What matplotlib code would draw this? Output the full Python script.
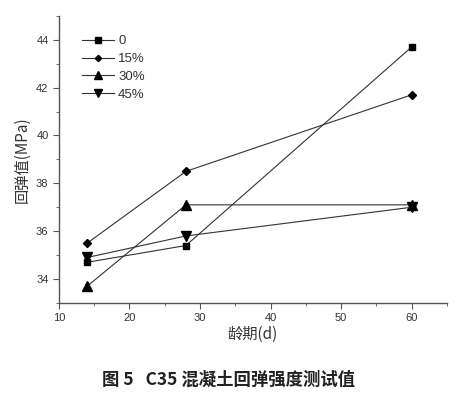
import matplotlib
matplotlib.use("Agg")
import matplotlib.pyplot as plt
from matplotlib.ticker import MultipleLocator

plt.rcParams['font.family'] = ['Liberation Sans', 'Noto Sans CJK SC', 'DejaVu Sans']

days = [14, 28, 60]
series_labels = ["0", "15%", "30%", "45%"]
s0 = [34.7, 35.4, 43.7]
s15 = [35.5, 38.5, 41.7]
s30 = [33.7, 37.1, 37.1]
s45 = [34.9, 35.8, 37.0]
x_label = "龄期(d)"
y_label = "回弹值(MPa)"
title = "图 5   C35 混凝土回弹强度测试值"

fig = plt.figure(figsize=(4.57, 3.96), dpi=100)
ax = fig.add_axes([0.129, 0.235, 0.849, 0.725])

markers = ['s', 'D', '^', 'v']
sizes = [5, 4, 6.5, 6.5]
for vals, lab, m, ms in zip([s0, s15, s30, s45], series_labels, markers, sizes):
    ax.plot(days, vals, color='#333333', lw=0.8, marker=m, markersize=ms,
            markerfacecolor='black', markeredgecolor='black', label=lab)

ax.set_xlim(10, 65)
ax.set_ylim(33, 45)
ax.xaxis.set_major_locator(MultipleLocator(10))
ax.xaxis.set_minor_locator(MultipleLocator(5))
ax.yaxis.set_major_locator(MultipleLocator(2))
ax.yaxis.set_minor_locator(MultipleLocator(1))
for s in ['top', 'right']:
    ax.spines[s].set_visible(False)
for s in ['left', 'bottom']:
    ax.spines[s].set_color('#555555')
    ax.spines[s].set_linewidth(1.0)
ax.tick_params(which='both', direction='out', colors='#555555', labelsize=8, labelcolor='#333333')
ax.tick_params(which='major', length=4)
ax.tick_params(which='minor', length=2.5)

ax.set_xlabel(x_label, fontsize=11, color='#333333', labelpad=2,
              family=['Noto Sans CJK SC', 'DejaVu Sans'])
ax.set_ylabel(y_label, fontsize=11, color='#333333', labelpad=4,
              family=['Noto Sans CJK SC', 'DejaVu Sans'])

leg = ax.legend(loc='upper left', bbox_to_anchor=(0.04, 0.96), frameon=False,
                fontsize=9.5, handlelength=2.4, labelspacing=0.42, handletextpad=0.3,
                borderaxespad=0.2, markerscale=0.8)
for t in leg.get_texts():
    t.set_color('#333333')

fig.text(0.5, 0.04, title, ha='center', va='center', fontsize=12.5,
         color='#222222', fontweight='bold', family=['Noto Sans CJK SC', 'DejaVu Sans'])

fig.savefig("out.png", dpi=100)
